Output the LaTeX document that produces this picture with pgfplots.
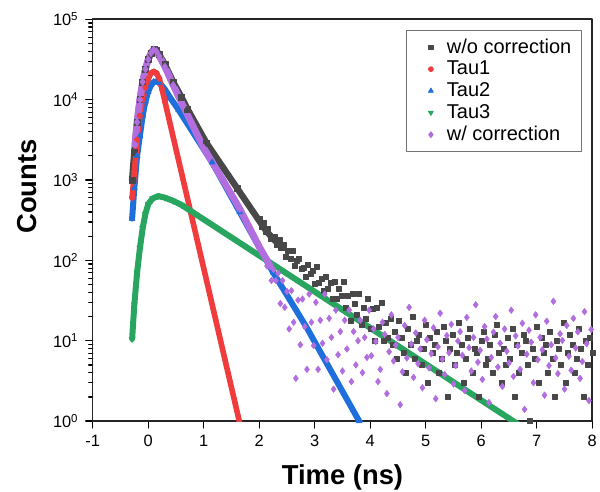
\documentclass[border=0pt]{standalone}
\usepackage{pgfplots}
\pgfplotsset{compat=1.18}
\usepackage{fontspec}
\setmainfont{Liberation Sans}

\definecolor{cgray}{RGB}{72,72,72}
\definecolor{cred}{RGB}{240,60,60}
\definecolor{cblue}{RGB}{30,110,220}
\definecolor{cgreen}{RGB}{40,165,95}
\definecolor{cpurple}{RGB}{178,110,222}

\begin{document}
\begin{tikzpicture}
\path[use as bounding box] (-46.35pt,-35pt) rectangle (253.65pt,210.55pt);
\begin{axis}[
    at={(0,0)}, anchor=south west,
    scale only axis,
    width=249.8pt, height=200.9pt,
    ymode=log,
    xmin=-1, xmax=8, ymin=1, ymax=100000,
    xtick={-1,0,1,2,3,4,5,6,7,8},
    ytick={1,10,100,1000,10000,100000},
    yticklabels={10\textsuperscript{0},10\textsuperscript{1},10\textsuperscript{2},10\textsuperscript{3},10\textsuperscript{4},10\textsuperscript{5}},
    minor ytick={2,3,4,5,6,7,8,9,20,30,40,50,60,70,80,90,200,300,400,500,600,700,800,900,2000,3000,4000,5000,6000,7000,8000,9000,20000,30000,40000,50000,60000,70000,80000,90000},
    tick align=outside,
    xtick pos=left, ytick pos=left,
    major tick length=3.5pt, minor tick length=2pt,
    every tick/.style={black, line width=0.6pt},
    axis line style={line width=0.8pt, black!85},
    /pgf/number format/assume math mode=true,
    tick label style={font=\fontsize{8.2}{10}\selectfont},
    label style={font=\fontsize{13.7}{16}\selectfont\bfseries},
    xlabel={Time (ns)},
    ylabel={Counts},
    xlabel style={at={(axis description cs:0.5,-0.139)}, anchor=center},
    ylabel style={at={(axis description cs:-0.131,0.584)}, anchor=center},
    legend cell align=left,
    legend image code/.code={\path[draw=none,fill=none] (0pt,0pt) -- (15pt,0pt); \draw[#1] plot coordinates {(9pt,0pt)};},
    legend style={at={(axis description cs:0.979,0.973)}, anchor=north east,
        draw=black!55, line width=0.4pt, font=\fontsize{10}{11.5}\selectfont,
        row sep=-1.6pt, inner xsep=3pt, inner ysep=2pt},
    line join=round, line cap=round,
]

\addlegendimage{only marks, mark=square*, mark size=1.1pt, cgray}
\addlegendentry{w/o correction}
\addlegendimage{only marks, mark=*, mark size=1.2pt, cred}
\addlegendentry{Tau1}
\addlegendimage{only marks, mark=triangle*, mark size=1.4pt, cblue}
\addlegendentry{Tau2}
\addlegendimage{only marks, mark=triangle*, mark size=1.4pt, cgreen, mark options={rotate=180}}
\addlegendentry{Tau3}
\addlegendimage{only marks, mark=diamond*, mark size=1.5pt, cpurple}
\addlegendentry{w/ correction}

% w/o correction, smooth part
\addplot[forget plot, cgray, line width=3.2pt, mark=square*, mark size=1.5pt, mark options={line width=0.2pt}]
coordinates {
(-0.29,1000) (-0.25,2239) (-0.20,5248) (-0.15,10000) (-0.10,16600) (-0.05,23990)
(0.00,31620) (0.05,38020) (0.10,42660) (0.15,40740) (0.20,36310) (0.30,27540)
(0.45,16600) (0.60,10720) (0.71,7586) (1.05,2884) (1.60,794) (2.13,229) (2.40,145)
};
% w/o correction, noisy tail
\addplot[forget plot, only marks, cgray, mark=square*, mark size=1.25pt, mark options={line width=0.2pt}]
coordinates {
(2.00,330) (2.04,262) (2.08,298) (2.12,239) (2.16,245) (2.20,185) (2.24,198) (2.28,196)
(2.32,155) (2.36,179) (2.40,142) (2.44,155) (2.48,110) (2.52,132) (2.56,105) (2.60,133)
(2.64,85) (2.68,100) (2.72,105) (2.76,79) (2.80,81) (2.84,62) (2.88,88) (2.92,68)
(2.96,75) (3.00,51) (3.04,83) (3.08,52) (3.12,59) (3.16,42) (3.20,62) (3.24,45)
(3.28,53) (3.32,33) (3.36,54) (3.40,33) (3.44,44) (3.48,36) (3.52,54) (3.56,26)
(3.60,36) (3.64,18) (3.68,38) (3.72,29) (3.76,21) (3.80,38) (3.84,16) (3.88,26)
(3.92,19) (3.96,33) (4.00,14) (4.04,25) (4.08,10) (4.12,26) (4.16,15) (4.20,30)
(4.24,10) (4.28,17) (4.32,11) (4.36,19) (4.40,9) (4.44,13) (4.48,6) (4.52,18)
(4.56,11) (4.60,7) (4.64,4) (4.68,14) (4.72,9) (4.76,20) (4.80,6) (4.84,10)
(4.88,12) (4.92,5) (4.96,8) (5.00,16) (5.04,3) (5.08,11) (5.12,7) (5.16,9)
(5.20,13) (5.24,4) (5.28,6) (5.32,15) (5.36,10) (5.40,2) (5.44,8) (5.48,12)
(5.52,5) (5.56,7) (5.60,17) (5.64,9) (5.68,3) (5.72,6) (5.76,11) (5.80,14)
(5.84,4) (5.88,8) (5.92,7) (5.96,2) (6.00,10) (6.04,13) (6.08,5) (6.12,6)
(6.16,9) (6.20,4) (6.24,12) (6.28,16) (6.32,7) (6.36,3) (6.40,8) (6.44,5)
(6.48,11) (6.52,6) (6.56,14) (6.60,2) (6.64,9) (6.68,4) (6.72,7) (6.76,12)
(6.80,10) (6.84,5) (6.88,1) (6.92,8) (6.96,6) (7.00,15) (7.04,3) (7.08,11)
(7.12,7) (7.16,9) (7.20,4) (7.24,13) (7.28,6) (7.32,2) (7.36,10) (7.40,8)
(7.44,5) (7.48,17) (7.52,3) (7.56,7) (7.60,12) (7.64,9) (7.68,4) (7.72,6)
(7.76,14) (7.80,8) (7.84,2) (7.88,10) (7.92,5) (7.96,11) (8.00,7)
};

% Tau2
\addplot[forget plot, cblue, line width=3pt, mark=triangle*, mark size=1.8pt, mark options={line width=0.2pt}]
coordinates {
(-0.29,331) (-0.25,794) (-0.20,1995) (-0.15,3548) (-0.10,6310) (-0.05,9550)
(0.00,12590) (0.05,15140) (0.10,16600) (0.15,16790) (0.20,16220) (0.30,13490)
(0.40,10470) (0.55,7413) (1.15,1660) (1.65,398) (2.25,70.8) (2.85,14.8) (3.80,1) (3.90,0.76)
};

% Tau1
\addplot[forget plot, cred, line width=2.8pt, mark=*, mark size=1.4pt, mark options={line width=0.2pt}]
coordinates {
(-0.29,603) (-0.25,1259) (-0.20,3162) (-0.15,6310) (-0.10,10000) (-0.05,14125)
(0.00,18200) (0.05,21380) (0.10,22390) (0.15,21380) (0.20,18200) (0.25,13490)
(0.30,9550) (1.80,0.336)
};

% Tau3
\addplot[forget plot, cgreen, line width=3pt, mark=triangle*, mark size=1.8pt, mark options={line width=0.2pt, rotate=180}]
coordinates {
(-0.29,10.5) (-0.25,28.2) (-0.20,70.8) (-0.15,141) (-0.10,251) (-0.05,380)
(0.00,501) (0.08,589) (0.18,631) (0.30,603) (0.45,550) (0.60,490) (6.70,0.88)
};

% w/ correction, smooth part
\addplot[forget plot, cpurple, line width=3.4pt, mark=diamond*, mark size=1.9pt, mark options={line width=0.2pt}]
coordinates {
(-0.24,2754) (-0.20,5248) (-0.15,10000) (-0.10,16600) (-0.05,23990) (0.00,31620)
(0.05,38020) (0.10,41690) (0.15,39810) (0.20,34670) (0.30,25700) (0.45,15140)
(0.63,8318) (1.00,2512) (1.38,912) (1.65,437) (2.00,148) (2.20,85)
};
% w/ correction, noisy tail
\addplot[forget plot, only marks, cpurple, mark=diamond*, mark size=1.7pt, mark options={line width=0.2pt}]
coordinates {
(2.10,110) (2.14,85) (2.18,93) (2.22,56) (2.26,77) (2.30,56) (2.34,69) (2.38,29)
(2.42,56) (2.46,26) (2.50,41) (2.54,14) (2.58,42) (2.62,17) (2.66,3.4) (2.70,32)
(2.74,8.9) (2.78,33) (2.82,15) (2.86,4.4) (2.90,38) (2.94,17) (2.98,8.7) (3.02,30)
(3.06,4.4) (3.10,18) (3.14,9.3) (3.18,38) (3.22,5.8) (3.26,19) (3.30,11) (3.34,2.5)
(3.38,24) (3.42,6.7) (3.46,13) (3.50,4.2) (3.54,18) (3.58,7.9) (3.62,24) (3.66,3.1)
(3.70,13) (3.74,5) (3.78,10) (3.82,18) (3.86,4) (3.90,11) (3.94,6.2) (3.98,24)
(4.02,6.5) (4.06,14) (4.10,9.8) (4.14,3.1) (4.18,4.4) (4.22,17) (4.26,12) (4.30,2.2)
(4.34,7.3) (4.38,21) (4.42,5.6) (4.46,8.8) (4.50,11) (4.54,1.6) (4.58,4.1) (4.62,15.5)
(4.66,6.1) (4.70,26) (4.74,9.1) (4.78,3.5) (4.82,12.5) (4.86,5.2) (4.90,7.9) (4.94,2.6)
(4.98,18) (5.02,10.3) (5.06,4.6) (5.10,6.9) (5.14,14.5) (5.18,1.9) (5.22,8.4) (5.26,22)
(5.30,5.9) (5.34,3.8) (5.38,11.6) (5.42,7.1) (5.46,16) (5.50,2.9) (5.54,4.9) (5.58,9.9)
(5.62,13) (5.66,6.6) (5.70,2.4) (5.74,19.5) (5.78,8.2) (5.82,4.2) (5.86,11) (5.90,28)
(5.94,5.4) (5.98,7.6) (6.02,3.3) (6.06,15) (6.10,10.5) (6.14,1.7) (6.18,6.2) (6.22,12.8)
(6.26,20) (6.30,4.7) (6.34,9.3) (6.38,2.7) (6.42,14) (6.46,7.4) (6.50,5.3) (6.54,24)
(6.58,3.6) (6.62,11.5) (6.66,8.6) (6.70,4.4) (6.74,16.5) (6.78,1.4) (6.82,6.8) (6.86,13.5)
(6.90,9.6) (6.94,3) (6.98,21) (7.02,5.8) (7.06,11) (7.10,7.7) (7.14,2.1) (7.18,17.5)
(7.22,4.9) (7.26,8.9) (7.30,31) (7.34,6.1) (7.38,3.9) (7.42,12.2) (7.46,10.1) (7.50,2.5)
(7.54,15.5) (7.58,6.4) (7.62,4.3) (7.66,19) (7.70,8.1) (7.74,12.9) (7.78,3.4) (7.82,5.5)
(7.86,23) (7.90,9.2) (7.94,1.8) (7.98,13.8)
};

\end{axis}
\end{tikzpicture}
\end{document}
